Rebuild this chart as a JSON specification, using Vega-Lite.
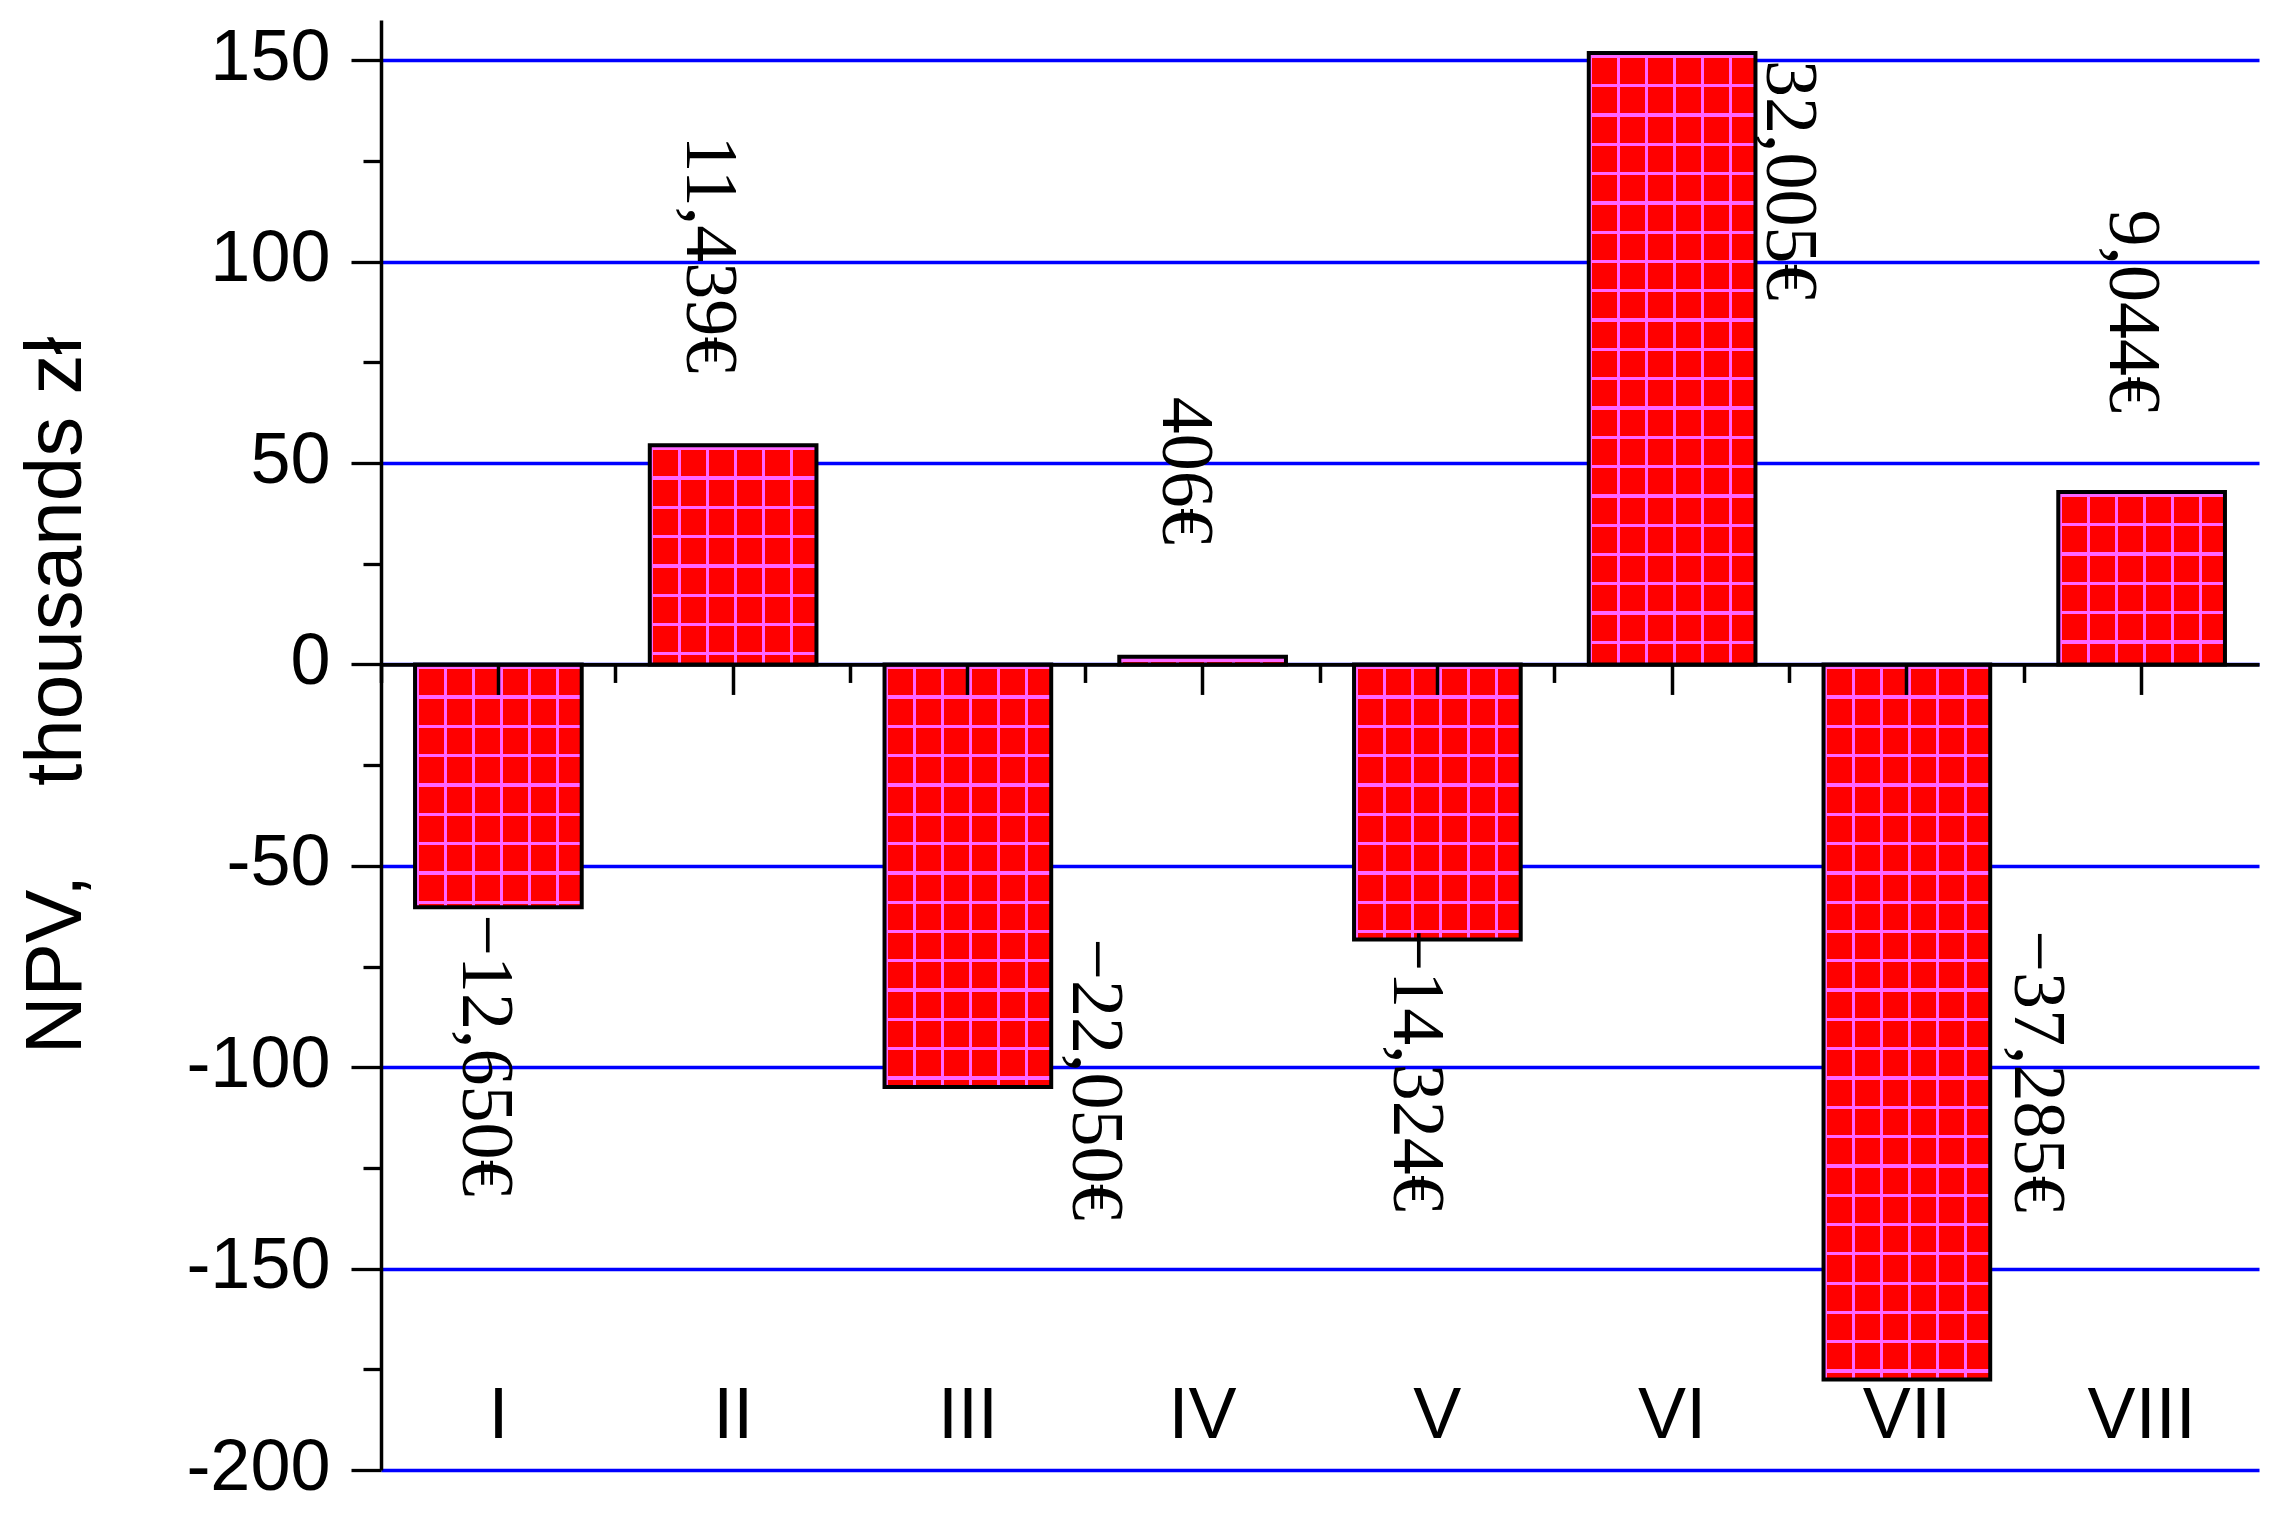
{
  "$schema": "https://vega.github.io/schema/vega-lite/v6.json",
  "width": 1878,
  "height": 1450,
  "autosize": {"type": "none"},
  "padding": {"left": 381, "top": 20, "right": 15, "bottom": 45},
  "background": "white",
  "config": {
    "view": {"stroke": null},
    "axis": {"labelFont": "Liberation Sans", "labelColor": "black", "titleFont": "Liberation Sans", "titleColor": "black", "titleFontWeight": "normal", "domainColor": "black", "tickColor": "black"}
  },
  "data": {"values": [
    {"scheme": "I", "npv": -60.3, "label": "−12,650€"},
    {"scheme": "II", "npv": 54.4, "label": "11,439€"},
    {"scheme": "III", "npv": -104.9, "label": "−22,050€"},
    {"scheme": "IV", "npv": 1.9, "label": "406€"},
    {"scheme": "V", "npv": -68.3, "label": "−14,324€"},
    {"scheme": "VI", "npv": 151.8, "label": "32,005€"},
    {"scheme": "VII", "npv": -177.5, "label": "−37,285€"},
    {"scheme": "VIII", "npv": 42.8, "label": "9,044€"}
  ]},
  "resolve": {"axis": {"x": "independent", "y": "independent"}},
  "layer": [
    {
      "mark": {"type": "bar", "fill": {"gradient": "linear", "x1": 0, "y1": 0, "x2": 1, "y2": 0, "stops": [
        {"offset": 0.003, "color": "#f00"}, {"offset": 0.003, "color": "#f6f"}, {"offset": 0.021, "color": "#f6f"}, {"offset": 0.021, "color": "#f00"},
        {"offset": 0.171, "color": "#f00"}, {"offset": 0.171, "color": "#f6f"}, {"offset": 0.189, "color": "#f6f"}, {"offset": 0.189, "color": "#f00"},
        {"offset": 0.339, "color": "#f00"}, {"offset": 0.339, "color": "#f6f"}, {"offset": 0.357, "color": "#f6f"}, {"offset": 0.357, "color": "#f00"},
        {"offset": 0.507, "color": "#f00"}, {"offset": 0.507, "color": "#f6f"}, {"offset": 0.525, "color": "#f6f"}, {"offset": 0.525, "color": "#f00"},
        {"offset": 0.675, "color": "#f00"}, {"offset": 0.675, "color": "#f6f"}, {"offset": 0.693, "color": "#f6f"}, {"offset": 0.693, "color": "#f00"},
        {"offset": 0.843, "color": "#f00"}, {"offset": 0.843, "color": "#f6f"}, {"offset": 0.861, "color": "#f6f"}, {"offset": 0.861, "color": "#f00"}
      ]}},
      "encoding": {
        "x": {"field": "scheme", "type": "nominal", "sort": null, "scale": {"paddingInner": 0.29, "paddingOuter": 0.145},
          "axis": {"orient": "bottom", "title": null, "domain": false, "ticks": false, "tickSize": 0, "grid": false, "labelAngle": 0, "labelFontSize": 72, "labelPadding": -33, "labelBaseline": "alphabetic"}},
        "y": {"field": "npv", "type": "quantitative", "scale": {"domain": [-200, 160], "nice": false, "zero": false},
          "axis": {"orient": "left", "values": [-200, -150, -100, -50, 0, 50, 100, 150], "labelExpr": "toString(datum.value)", "labelFontSize": 72, "labelPadding": 21, "labelFlush": false, "labelOverlap": false, "labelOffset": -3, "tickSize": 30, "tickWidth": 3.3, "domainWidth": 3.5, "grid": true, "gridColor": "#0000ff", "gridWidth": 3.5, "title": "NPV,\u00a0\u00a0\u00a0\u00a0thousands zł", "titleFontSize": 80, "titleAngle": 270, "titleX": -301, "titleY": 675, "titleAlign": "center", "titleBaseline": "alphabetic"}}
      }
    },
    {
      "mark": {"type": "bar", "stroke": "black", "strokeWidth": 4},
      "encoding": {
        "x": {"field": "scheme", "type": "nominal", "sort": null,
          "axis": {"orient": "bottom", "offset": {"expr": "scale('y', 0) - height"}, "labels": false, "grid": false, "domain": true, "domainWidth": 3.8, "ticks": true, "tickSize": 30, "tickWidth": 3.5, "title": null, "zindex": 1}},
        "y": {"field": "npv", "type": "quantitative",
          "axis": {"orient": "left", "values": [-175, -125, -75, -25, 25, 75, 125], "labels": false, "domain": false, "grid": false, "tickSize": 18, "tickWidth": 3.3, "title": null}},
        "fill": {
          "condition": [
            {"test": "datum.scheme === 'I'", "value": {"gradient": "linear", "x1": 0, "y1": 0, "x2": 0, "y2": 1, "stops": [
              {"offset": 0.0070, "color": "#f6f0"}, {"offset": 0.0070, "color": "#f6f"}, {"offset": 0.0206, "color": "#f6f"}, {"offset": 0.0206, "color": "#f6f0"},
              {"offset": 0.1276, "color": "#f6f0"}, {"offset": 0.1276, "color": "#f6f"}, {"offset": 0.1412, "color": "#f6f"}, {"offset": 0.1412, "color": "#f6f0"},
              {"offset": 0.2483, "color": "#f6f0"}, {"offset": 0.2483, "color": "#f6f"}, {"offset": 0.2618, "color": "#f6f"}, {"offset": 0.2618, "color": "#f6f0"},
              {"offset": 0.3689, "color": "#f6f0"}, {"offset": 0.3689, "color": "#f6f"}, {"offset": 0.3825, "color": "#f6f"}, {"offset": 0.3825, "color": "#f6f0"},
              {"offset": 0.4895, "color": "#f6f0"}, {"offset": 0.4895, "color": "#f6f"}, {"offset": 0.5031, "color": "#f6f"}, {"offset": 0.5031, "color": "#f6f0"},
              {"offset": 0.6102, "color": "#f6f0"}, {"offset": 0.6102, "color": "#f6f"}, {"offset": 0.6237, "color": "#f6f"}, {"offset": 0.6237, "color": "#f6f0"},
              {"offset": 0.7308, "color": "#f6f0"}, {"offset": 0.7308, "color": "#f6f"}, {"offset": 0.7444, "color": "#f6f"}, {"offset": 0.7444, "color": "#f6f0"},
              {"offset": 0.8514, "color": "#f6f0"}, {"offset": 0.8514, "color": "#f6f"}, {"offset": 0.8650, "color": "#f6f"}, {"offset": 0.8650, "color": "#f6f0"},
              {"offset": 0.9720, "color": "#f6f0"}, {"offset": 0.9720, "color": "#f6f"}, {"offset": 0.9856, "color": "#f6f"}, {"offset": 0.9856, "color": "#f6f0"}
            ]}},
            {"test": "datum.scheme === 'II'", "value": {"gradient": "linear", "x1": 0, "y1": 0, "x2": 0, "y2": 1, "stops": [
              {"offset": 0.0078, "color": "#f6f0"}, {"offset": 0.0078, "color": "#f6f"}, {"offset": 0.0228, "color": "#f6f"}, {"offset": 0.0228, "color": "#f6f0"},
              {"offset": 0.1415, "color": "#f6f0"}, {"offset": 0.1415, "color": "#f6f"}, {"offset": 0.1566, "color": "#f6f"}, {"offset": 0.1566, "color": "#f6f0"},
              {"offset": 0.2752, "color": "#f6f0"}, {"offset": 0.2752, "color": "#f6f"}, {"offset": 0.2903, "color": "#f6f"}, {"offset": 0.2903, "color": "#f6f0"},
              {"offset": 0.4090, "color": "#f6f0"}, {"offset": 0.4090, "color": "#f6f"}, {"offset": 0.4240, "color": "#f6f"}, {"offset": 0.4240, "color": "#f6f0"},
              {"offset": 0.5427, "color": "#f6f0"}, {"offset": 0.5427, "color": "#f6f"}, {"offset": 0.5577, "color": "#f6f"}, {"offset": 0.5577, "color": "#f6f0"},
              {"offset": 0.6764, "color": "#f6f0"}, {"offset": 0.6764, "color": "#f6f"}, {"offset": 0.6915, "color": "#f6f"}, {"offset": 0.6915, "color": "#f6f0"},
              {"offset": 0.8101, "color": "#f6f0"}, {"offset": 0.8101, "color": "#f6f"}, {"offset": 0.8252, "color": "#f6f"}, {"offset": 0.8252, "color": "#f6f0"},
              {"offset": 0.9439, "color": "#f6f0"}, {"offset": 0.9439, "color": "#f6f"}, {"offset": 0.9589, "color": "#f6f"}, {"offset": 0.9589, "color": "#f6f0"}
            ]}},
            {"test": "datum.scheme === 'III'", "value": {"gradient": "linear", "x1": 0, "y1": 0, "x2": 0, "y2": 1, "stops": [
              {"offset": 0.0040, "color": "#f6f0"}, {"offset": 0.0040, "color": "#f6f"}, {"offset": 0.0118, "color": "#f6f"}, {"offset": 0.0118, "color": "#f6f0"},
              {"offset": 0.0734, "color": "#f6f0"}, {"offset": 0.0734, "color": "#f6f"}, {"offset": 0.0812, "color": "#f6f"}, {"offset": 0.0812, "color": "#f6f0"},
              {"offset": 0.1427, "color": "#f6f0"}, {"offset": 0.1427, "color": "#f6f"}, {"offset": 0.1505, "color": "#f6f"}, {"offset": 0.1505, "color": "#f6f0"},
              {"offset": 0.2121, "color": "#f6f0"}, {"offset": 0.2121, "color": "#f6f"}, {"offset": 0.2199, "color": "#f6f"}, {"offset": 0.2199, "color": "#f6f0"},
              {"offset": 0.2814, "color": "#f6f0"}, {"offset": 0.2814, "color": "#f6f"}, {"offset": 0.2892, "color": "#f6f"}, {"offset": 0.2892, "color": "#f6f0"},
              {"offset": 0.3508, "color": "#f6f0"}, {"offset": 0.3508, "color": "#f6f"}, {"offset": 0.3586, "color": "#f6f"}, {"offset": 0.3586, "color": "#f6f0"},
              {"offset": 0.4201, "color": "#f6f0"}, {"offset": 0.4201, "color": "#f6f"}, {"offset": 0.4279, "color": "#f6f"}, {"offset": 0.4279, "color": "#f6f0"},
              {"offset": 0.4895, "color": "#f6f0"}, {"offset": 0.4895, "color": "#f6f"}, {"offset": 0.4973, "color": "#f6f"}, {"offset": 0.4973, "color": "#f6f0"},
              {"offset": 0.5588, "color": "#f6f0"}, {"offset": 0.5588, "color": "#f6f"}, {"offset": 0.5666, "color": "#f6f"}, {"offset": 0.5666, "color": "#f6f0"},
              {"offset": 0.6282, "color": "#f6f0"}, {"offset": 0.6282, "color": "#f6f"}, {"offset": 0.6360, "color": "#f6f"}, {"offset": 0.6360, "color": "#f6f0"},
              {"offset": 0.6975, "color": "#f6f0"}, {"offset": 0.6975, "color": "#f6f"}, {"offset": 0.7053, "color": "#f6f"}, {"offset": 0.7053, "color": "#f6f0"},
              {"offset": 0.7669, "color": "#f6f0"}, {"offset": 0.7669, "color": "#f6f"}, {"offset": 0.7747, "color": "#f6f"}, {"offset": 0.7747, "color": "#f6f0"},
              {"offset": 0.8362, "color": "#f6f0"}, {"offset": 0.8362, "color": "#f6f"}, {"offset": 0.8440, "color": "#f6f"}, {"offset": 0.8440, "color": "#f6f0"},
              {"offset": 0.9056, "color": "#f6f0"}, {"offset": 0.9056, "color": "#f6f"}, {"offset": 0.9134, "color": "#f6f"}, {"offset": 0.9134, "color": "#f6f0"},
              {"offset": 0.9749, "color": "#f6f0"}, {"offset": 0.9749, "color": "#f6f"}, {"offset": 0.9827, "color": "#f6f"}, {"offset": 0.9827, "color": "#f6f0"}
            ]}},
            {"test": "datum.scheme === 'IV'", "value": {"gradient": "linear", "x1": 0, "y1": 0, "x2": 0, "y2": 1, "stops": [
              {"offset": 0.22, "color": "#f6f0"}, {"offset": 0.22, "color": "#f6f"}, {"offset": 0.65, "color": "#f6f"}, {"offset": 0.65, "color": "#f6f0"}
            ]}},
            {"test": "datum.scheme === 'V'", "value": {"gradient": "linear", "x1": 0, "y1": 0, "x2": 0, "y2": 1, "stops": [
              {"offset": 0.0062, "color": "#f6f0"}, {"offset": 0.0062, "color": "#f6f"}, {"offset": 0.0182, "color": "#f6f"}, {"offset": 0.0182, "color": "#f6f0"},
              {"offset": 0.1127, "color": "#f6f0"}, {"offset": 0.1127, "color": "#f6f"}, {"offset": 0.1247, "color": "#f6f"}, {"offset": 0.1247, "color": "#f6f0"},
              {"offset": 0.2192, "color": "#f6f0"}, {"offset": 0.2192, "color": "#f6f"}, {"offset": 0.2312, "color": "#f6f"}, {"offset": 0.2312, "color": "#f6f0"},
              {"offset": 0.3257, "color": "#f6f0"}, {"offset": 0.3257, "color": "#f6f"}, {"offset": 0.3377, "color": "#f6f"}, {"offset": 0.3377, "color": "#f6f0"},
              {"offset": 0.4322, "color": "#f6f0"}, {"offset": 0.4322, "color": "#f6f"}, {"offset": 0.4442, "color": "#f6f"}, {"offset": 0.4442, "color": "#f6f0"},
              {"offset": 0.5387, "color": "#f6f0"}, {"offset": 0.5387, "color": "#f6f"}, {"offset": 0.5507, "color": "#f6f"}, {"offset": 0.5507, "color": "#f6f0"},
              {"offset": 0.6452, "color": "#f6f0"}, {"offset": 0.6452, "color": "#f6f"}, {"offset": 0.6572, "color": "#f6f"}, {"offset": 0.6572, "color": "#f6f0"},
              {"offset": 0.7518, "color": "#f6f0"}, {"offset": 0.7518, "color": "#f6f"}, {"offset": 0.7638, "color": "#f6f"}, {"offset": 0.7638, "color": "#f6f0"},
              {"offset": 0.8583, "color": "#f6f0"}, {"offset": 0.8583, "color": "#f6f"}, {"offset": 0.8703, "color": "#f6f"}, {"offset": 0.8703, "color": "#f6f0"},
              {"offset": 0.9648, "color": "#f6f0"}, {"offset": 0.9648, "color": "#f6f"}, {"offset": 0.9768, "color": "#f6f"}, {"offset": 0.9768, "color": "#f6f0"}
            ]}},
            {"test": "datum.scheme === 'VI'", "value": {"gradient": "linear", "x1": 0, "y1": 0, "x2": 0, "y2": 1, "stops": [
              {"offset": 0.0028, "color": "#f6f0"}, {"offset": 0.0028, "color": "#f6f"}, {"offset": 0.0082, "color": "#f6f"}, {"offset": 0.0082, "color": "#f6f0"},
              {"offset": 0.0507, "color": "#f6f0"}, {"offset": 0.0507, "color": "#f6f"}, {"offset": 0.0561, "color": "#f6f"}, {"offset": 0.0561, "color": "#f6f0"},
              {"offset": 0.0986, "color": "#f6f0"}, {"offset": 0.0986, "color": "#f6f"}, {"offset": 0.1040, "color": "#f6f"}, {"offset": 0.1040, "color": "#f6f0"},
              {"offset": 0.1466, "color": "#f6f0"}, {"offset": 0.1466, "color": "#f6f"}, {"offset": 0.1520, "color": "#f6f"}, {"offset": 0.1520, "color": "#f6f0"},
              {"offset": 0.1945, "color": "#f6f0"}, {"offset": 0.1945, "color": "#f6f"}, {"offset": 0.1999, "color": "#f6f"}, {"offset": 0.1999, "color": "#f6f0"},
              {"offset": 0.2424, "color": "#f6f0"}, {"offset": 0.2424, "color": "#f6f"}, {"offset": 0.2478, "color": "#f6f"}, {"offset": 0.2478, "color": "#f6f0"},
              {"offset": 0.2903, "color": "#f6f0"}, {"offset": 0.2903, "color": "#f6f"}, {"offset": 0.2957, "color": "#f6f"}, {"offset": 0.2957, "color": "#f6f0"},
              {"offset": 0.3382, "color": "#f6f0"}, {"offset": 0.3382, "color": "#f6f"}, {"offset": 0.3436, "color": "#f6f"}, {"offset": 0.3436, "color": "#f6f0"},
              {"offset": 0.3862, "color": "#f6f0"}, {"offset": 0.3862, "color": "#f6f"}, {"offset": 0.3916, "color": "#f6f"}, {"offset": 0.3916, "color": "#f6f0"},
              {"offset": 0.4341, "color": "#f6f0"}, {"offset": 0.4341, "color": "#f6f"}, {"offset": 0.4395, "color": "#f6f"}, {"offset": 0.4395, "color": "#f6f0"},
              {"offset": 0.4820, "color": "#f6f0"}, {"offset": 0.4820, "color": "#f6f"}, {"offset": 0.4874, "color": "#f6f"}, {"offset": 0.4874, "color": "#f6f0"},
              {"offset": 0.5299, "color": "#f6f0"}, {"offset": 0.5299, "color": "#f6f"}, {"offset": 0.5353, "color": "#f6f"}, {"offset": 0.5353, "color": "#f6f0"},
              {"offset": 0.5779, "color": "#f6f0"}, {"offset": 0.5779, "color": "#f6f"}, {"offset": 0.5833, "color": "#f6f"}, {"offset": 0.5833, "color": "#f6f0"},
              {"offset": 0.6258, "color": "#f6f0"}, {"offset": 0.6258, "color": "#f6f"}, {"offset": 0.6312, "color": "#f6f"}, {"offset": 0.6312, "color": "#f6f0"},
              {"offset": 0.6737, "color": "#f6f0"}, {"offset": 0.6737, "color": "#f6f"}, {"offset": 0.6791, "color": "#f6f"}, {"offset": 0.6791, "color": "#f6f0"},
              {"offset": 0.7216, "color": "#f6f0"}, {"offset": 0.7216, "color": "#f6f"}, {"offset": 0.7270, "color": "#f6f"}, {"offset": 0.7270, "color": "#f6f0"},
              {"offset": 0.7696, "color": "#f6f0"}, {"offset": 0.7696, "color": "#f6f"}, {"offset": 0.7750, "color": "#f6f"}, {"offset": 0.7750, "color": "#f6f0"},
              {"offset": 0.8175, "color": "#f6f0"}, {"offset": 0.8175, "color": "#f6f"}, {"offset": 0.8229, "color": "#f6f"}, {"offset": 0.8229, "color": "#f6f0"},
              {"offset": 0.8654, "color": "#f6f0"}, {"offset": 0.8654, "color": "#f6f"}, {"offset": 0.8708, "color": "#f6f"}, {"offset": 0.8708, "color": "#f6f0"},
              {"offset": 0.9133, "color": "#f6f0"}, {"offset": 0.9133, "color": "#f6f"}, {"offset": 0.9187, "color": "#f6f"}, {"offset": 0.9187, "color": "#f6f0"},
              {"offset": 0.9612, "color": "#f6f0"}, {"offset": 0.9612, "color": "#f6f"}, {"offset": 0.9666, "color": "#f6f"}, {"offset": 0.9666, "color": "#f6f0"}
            ]}},
            {"test": "datum.scheme === 'VII'", "value": {"gradient": "linear", "x1": 0, "y1": 0, "x2": 0, "y2": 1, "stops": [
              {"offset": 0.0024, "color": "#f6f0"}, {"offset": 0.0024, "color": "#f6f"}, {"offset": 0.0070, "color": "#f6f"}, {"offset": 0.0070, "color": "#f6f0"},
              {"offset": 0.0434, "color": "#f6f0"}, {"offset": 0.0434, "color": "#f6f"}, {"offset": 0.0480, "color": "#f6f"}, {"offset": 0.0480, "color": "#f6f0"},
              {"offset": 0.0844, "color": "#f6f0"}, {"offset": 0.0844, "color": "#f6f"}, {"offset": 0.0890, "color": "#f6f"}, {"offset": 0.0890, "color": "#f6f0"},
              {"offset": 0.1253, "color": "#f6f0"}, {"offset": 0.1253, "color": "#f6f"}, {"offset": 0.1300, "color": "#f6f"}, {"offset": 0.1300, "color": "#f6f0"},
              {"offset": 0.1663, "color": "#f6f0"}, {"offset": 0.1663, "color": "#f6f"}, {"offset": 0.1709, "color": "#f6f"}, {"offset": 0.1709, "color": "#f6f0"},
              {"offset": 0.2073, "color": "#f6f0"}, {"offset": 0.2073, "color": "#f6f"}, {"offset": 0.2119, "color": "#f6f"}, {"offset": 0.2119, "color": "#f6f0"},
              {"offset": 0.2483, "color": "#f6f0"}, {"offset": 0.2483, "color": "#f6f"}, {"offset": 0.2529, "color": "#f6f"}, {"offset": 0.2529, "color": "#f6f0"},
              {"offset": 0.2893, "color": "#f6f0"}, {"offset": 0.2893, "color": "#f6f"}, {"offset": 0.2939, "color": "#f6f"}, {"offset": 0.2939, "color": "#f6f0"},
              {"offset": 0.3303, "color": "#f6f0"}, {"offset": 0.3303, "color": "#f6f"}, {"offset": 0.3349, "color": "#f6f"}, {"offset": 0.3349, "color": "#f6f0"},
              {"offset": 0.3712, "color": "#f6f0"}, {"offset": 0.3712, "color": "#f6f"}, {"offset": 0.3759, "color": "#f6f"}, {"offset": 0.3759, "color": "#f6f0"},
              {"offset": 0.4122, "color": "#f6f0"}, {"offset": 0.4122, "color": "#f6f"}, {"offset": 0.4168, "color": "#f6f"}, {"offset": 0.4168, "color": "#f6f0"},
              {"offset": 0.4532, "color": "#f6f0"}, {"offset": 0.4532, "color": "#f6f"}, {"offset": 0.4578, "color": "#f6f"}, {"offset": 0.4578, "color": "#f6f0"},
              {"offset": 0.4942, "color": "#f6f0"}, {"offset": 0.4942, "color": "#f6f"}, {"offset": 0.4988, "color": "#f6f"}, {"offset": 0.4988, "color": "#f6f0"},
              {"offset": 0.5352, "color": "#f6f0"}, {"offset": 0.5352, "color": "#f6f"}, {"offset": 0.5398, "color": "#f6f"}, {"offset": 0.5398, "color": "#f6f0"},
              {"offset": 0.5762, "color": "#f6f0"}, {"offset": 0.5762, "color": "#f6f"}, {"offset": 0.5808, "color": "#f6f"}, {"offset": 0.5808, "color": "#f6f0"},
              {"offset": 0.6172, "color": "#f6f0"}, {"offset": 0.6172, "color": "#f6f"}, {"offset": 0.6218, "color": "#f6f"}, {"offset": 0.6218, "color": "#f6f0"},
              {"offset": 0.6581, "color": "#f6f0"}, {"offset": 0.6581, "color": "#f6f"}, {"offset": 0.6628, "color": "#f6f"}, {"offset": 0.6628, "color": "#f6f0"},
              {"offset": 0.6991, "color": "#f6f0"}, {"offset": 0.6991, "color": "#f6f"}, {"offset": 0.7037, "color": "#f6f"}, {"offset": 0.7037, "color": "#f6f0"},
              {"offset": 0.7401, "color": "#f6f0"}, {"offset": 0.7401, "color": "#f6f"}, {"offset": 0.7447, "color": "#f6f"}, {"offset": 0.7447, "color": "#f6f0"},
              {"offset": 0.7811, "color": "#f6f0"}, {"offset": 0.7811, "color": "#f6f"}, {"offset": 0.7857, "color": "#f6f"}, {"offset": 0.7857, "color": "#f6f0"},
              {"offset": 0.8221, "color": "#f6f0"}, {"offset": 0.8221, "color": "#f6f"}, {"offset": 0.8267, "color": "#f6f"}, {"offset": 0.8267, "color": "#f6f0"},
              {"offset": 0.8631, "color": "#f6f0"}, {"offset": 0.8631, "color": "#f6f"}, {"offset": 0.8677, "color": "#f6f"}, {"offset": 0.8677, "color": "#f6f0"},
              {"offset": 0.9041, "color": "#f6f0"}, {"offset": 0.9041, "color": "#f6f"}, {"offset": 0.9087, "color": "#f6f"}, {"offset": 0.9087, "color": "#f6f0"},
              {"offset": 0.9450, "color": "#f6f0"}, {"offset": 0.9450, "color": "#f6f"}, {"offset": 0.9497, "color": "#f6f"}, {"offset": 0.9497, "color": "#f6f0"},
              {"offset": 0.9860, "color": "#f6f0"}, {"offset": 0.9860, "color": "#f6f"}, {"offset": 0.9906, "color": "#f6f"}, {"offset": 0.9906, "color": "#f6f0"}
            ]}},
            {"test": "datum.scheme === 'VIII'", "value": {"gradient": "linear", "x1": 0, "y1": 0, "x2": 0, "y2": 1, "stops": [
              {"offset": 0.0099, "color": "#f6f0"}, {"offset": 0.0099, "color": "#f6f"}, {"offset": 0.0290, "color": "#f6f"}, {"offset": 0.0290, "color": "#f6f0"},
              {"offset": 0.1798, "color": "#f6f0"}, {"offset": 0.1798, "color": "#f6f"}, {"offset": 0.1990, "color": "#f6f"}, {"offset": 0.1990, "color": "#f6f0"},
              {"offset": 0.3498, "color": "#f6f0"}, {"offset": 0.3498, "color": "#f6f"}, {"offset": 0.3689, "color": "#f6f"}, {"offset": 0.3689, "color": "#f6f0"},
              {"offset": 0.5197, "color": "#f6f0"}, {"offset": 0.5197, "color": "#f6f"}, {"offset": 0.5389, "color": "#f6f"}, {"offset": 0.5389, "color": "#f6f0"},
              {"offset": 0.6897, "color": "#f6f0"}, {"offset": 0.6897, "color": "#f6f"}, {"offset": 0.7088, "color": "#f6f"}, {"offset": 0.7088, "color": "#f6f0"},
              {"offset": 0.8596, "color": "#f6f0"}, {"offset": 0.8596, "color": "#f6f"}, {"offset": 0.8788, "color": "#f6f"}, {"offset": 0.8788, "color": "#f6f0"}
            ]}}
          ],
          "value": "transparent"
        }
      }
    },
    {
      "transform": [{"filter": "datum.scheme === 'I'"}],
      "mark": {"type": "text", "angle": 90, "align": "left", "baseline": "alphabetic", "dx": 7, "dy": 35, "font": "Liberation Serif", "fontSize": 74, "fill": "black"},
      "encoding": {
        "x": {"field": "scheme", "type": "nominal", "sort": null,
          "axis": {"orient": "bottom", "offset": {"expr": "scale('y', 0) - height"}, "bandPosition": -0.2042, "labels": false, "grid": false, "domain": false, "ticks": true, "tickSize": 18, "tickWidth": 3.5, "title": null, "zindex": 1}},
        "y": {"field": "npv", "type": "quantitative", "axis": null},
        "text": {"field": "label"}
      }
    },
    {
      "transform": [{"filter": "datum.scheme === 'II'"}],
      "mark": {"type": "text", "angle": 90, "align": "right", "baseline": "alphabetic", "dx": -72, "dy": 46, "font": "Liberation Serif", "fontSize": 74, "fill": "black"},
      "encoding": {
        "x": {"field": "scheme", "type": "nominal", "sort": null, "axis": null},
        "y": {"field": "npv", "type": "quantitative", "axis": null},
        "text": {"field": "label"}
      }
    },
    {
      "transform": [{"filter": "datum.scheme === 'III'"}],
      "mark": {"type": "text", "angle": 90, "align": "left", "baseline": "alphabetic", "dx": 0, "dy": -105, "font": "Liberation Serif", "fontSize": 74, "fill": "black"},
      "encoding": {
        "x": {"field": "scheme", "type": "nominal", "sort": null, "axis": null},
        "y": {"datum": -68, "type": "quantitative", "axis": null},
        "text": {"field": "label"}
      }
    },
    {
      "transform": [{"filter": "datum.scheme === 'IV'"}],
      "mark": {"type": "text", "angle": 90, "align": "right", "baseline": "alphabetic", "dx": -112, "dy": 40, "font": "Liberation Serif", "fontSize": 74, "fill": "black"},
      "encoding": {
        "x": {"field": "scheme", "type": "nominal", "sort": null, "axis": null},
        "y": {"field": "npv", "type": "quantitative", "axis": null},
        "text": {"field": "label"}
      }
    },
    {
      "transform": [{"filter": "datum.scheme === 'V'"}],
      "mark": {"type": "text", "angle": 90, "align": "left", "baseline": "alphabetic", "dx": -10, "dy": 43, "font": "Liberation Serif", "fontSize": 74, "fill": "black"},
      "encoding": {
        "x": {"field": "scheme", "type": "nominal", "sort": null, "axis": null},
        "y": {"field": "npv", "type": "quantitative", "axis": null},
        "text": {"field": "label"}
      }
    },
    {
      "transform": [{"filter": "datum.scheme === 'VI'"}],
      "mark": {"type": "text", "angle": 90, "align": "left", "baseline": "alphabetic", "dx": 7, "dy": -95, "font": "Liberation Serif", "fontSize": 74, "fill": "black"},
      "encoding": {
        "x": {"field": "scheme", "type": "nominal", "sort": null, "axis": null},
        "y": {"field": "npv", "type": "quantitative", "axis": null},
        "text": {"field": "label"}
      }
    },
    {
      "transform": [{"filter": "datum.scheme === 'VII'"}],
      "mark": {"type": "text", "angle": 90, "align": "left", "baseline": "alphabetic", "dx": 0, "dy": -108, "font": "Liberation Serif", "fontSize": 74, "fill": "black"},
      "encoding": {
        "x": {"field": "scheme", "type": "nominal", "sort": null, "axis": null},
        "y": {"datum": -66, "type": "quantitative", "axis": null},
        "text": {"field": "label"}
      }
    },
    {
      "transform": [{"filter": "datum.scheme === 'VIII'"}],
      "mark": {"type": "text", "angle": 90, "align": "right", "baseline": "alphabetic", "dx": -79, "dy": 32, "font": "Liberation Serif", "fontSize": 74, "fill": "black"},
      "encoding": {
        "x": {"field": "scheme", "type": "nominal", "sort": null, "axis": null},
        "y": {"field": "npv", "type": "quantitative", "axis": null},
        "text": {"field": "label"}
      }
    }
  ]
}
